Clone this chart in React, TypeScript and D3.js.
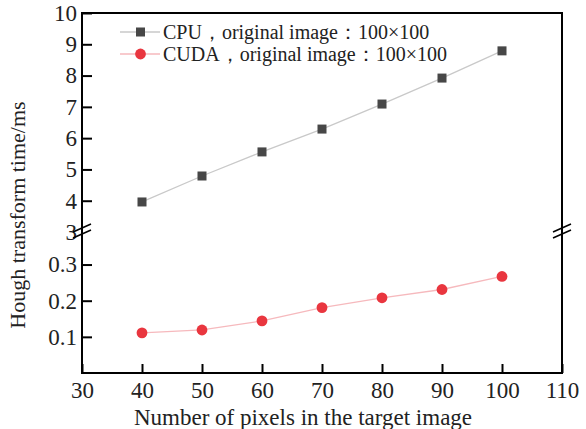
import React, { useEffect, useRef } from "react";
import * as d3 from "d3";

// ---- data ----
const pixels = [40, 50, 60, 70, 80, 90, 100];
const cpuTimes = [3.96, 4.79, 5.56, 6.29, 7.09, 7.92, 8.79];
const cudaTimes = [0.111, 0.119, 0.144, 0.181, 0.208, 0.231, 0.267];
const xTicks = [30, 40, 50, 60, 70, 80, 90, 100, 110];
const upperTicks = [3, 4, 5, 6, 7, 8, 9, 10];
const lowerTicks = [0.1, 0.2, 0.3];
const seriesNames = ["CPU，original image：100×100", "CUDA，original image：100×100"];
const xTitle = "Number of pixels in the target image";
const yTitle = "Hough transform time/ms";

const W = 586;
const H = 429;
const L = 82;
const R = 562;
const T = 13;
const B = 373;
const BREAK = 231;
const FONT = "Liberation Serif, Times New Roman, serif";

export default function App() {
  const ref = useRef<SVGSVGElement | null>(null);

  useEffect(() => {
    const svg = d3.select(ref.current);
    svg.selectAll("*").remove();

    const x = d3.scaleLinear().domain([30, 110]).range([L, R]);
    const yU = d3.scaleLinear().domain([3, 10]).range([BREAK + 1, T]);
    const yL = d3.scaleLinear().domain([0, 0.39]).range([B, BREAK + 1]);

    svg.append("rect").attr("width", W).attr("height", H).attr("fill", "#fff");

    // data lines
    const cpuPts = pixels.map((p, i) => [x(p), yU(cpuTimes[i])] as [number, number]);
    const cudaPts = pixels.map((p, i) => [x(p), yL(cudaTimes[i])] as [number, number]);
    const line = d3.line();
    svg.append("path").attr("d", line(cpuPts)).attr("fill", "none").attr("stroke", "#c9c9c9").attr("stroke-width", 1.3);
    svg.append("path").attr("d", line(cudaPts)).attr("fill", "none").attr("stroke", "#f6b9bd").attr("stroke-width", 1.3);

    svg.selectAll("rect.cpu").data(cpuPts).enter().append("rect")
      .attr("x", (d) => d[0] - 4.5).attr("y", (d) => d[1] - 4.5)
      .attr("width", 9).attr("height", 9).attr("fill", "#474747");
    svg.selectAll("circle.cuda").data(cudaPts).enter().append("circle")
      .attr("cx", (d) => d[0]).attr("cy", (d) => d[1]).attr("r", 5.4).attr("fill", "#e9363f");

    const styleAxis = (g: any) => {
      g.attr("font-family", FONT).attr("font-size", 23);
      g.select(".domain").remove();
      g.selectAll("line").attr("stroke", "#000").attr("stroke-width", 2);
      g.selectAll("text").attr("font-family", FONT).attr("font-size", 23).attr("fill", "#222");
    };

    // x axis
    const gx = svg.append("g").attr("transform", `translate(0,${B})`)
      .call(d3.axisBottom(x).tickValues(xTicks).tickSize(-9).tickSizeOuter(0).tickPadding(9).tickFormat(d3.format("d")));
    styleAxis(gx);

    // upper y axis
    const gu = svg.append("g").attr("transform", `translate(${L},0)`)
      .call(d3.axisLeft(yU).tickValues(upperTicks).tickSize(-10).tickSizeOuter(0).tickPadding(5).tickFormat(d3.format("d")));
    styleAxis(gu);
    gu.selectAll(".tick").filter((d: any) => d === 3).select("line").remove();

    // lower y axis
    const gl = svg.append("g").attr("transform", `translate(${L},0)`)
      .call(d3.axisLeft(yL).tickValues(lowerTicks).tickSize(-10).tickSizeOuter(0).tickPadding(5).tickFormat(d3.format(".1f")));
    styleAxis(gl);

    // frame
    svg.append("rect").attr("x", L).attr("y", T).attr("width", R - L).attr("height", B - T)
      .attr("fill", "none").attr("stroke", "#000").attr("stroke-width", 2);

    // break marks
    [L, R].forEach((bx) => {
      [-3, 3].forEach((off) => {
        svg.append("line")
          .attr("x1", bx - 9).attr("y1", BREAK + off + 4)
          .attr("x2", bx + 9).attr("y2", BREAK + off - 4)
          .attr("stroke", "#000").attr("stroke-width", 1.6);
      });
    });

    // legend
    const legend = svg.append("g");
    const rows = [
      { name: seriesNames[0], color: "#c9c9c9", y: 32 },
      { name: seriesNames[1], color: "#f6b9bd", y: 54 },
    ];
    rows.forEach((r, i) => {
      legend.append("line").attr("x1", 120).attr("x2", 160).attr("y1", r.y).attr("y2", r.y)
        .attr("stroke", r.color).attr("stroke-width", 1.3);
      if (i === 0) {
        legend.append("rect").attr("x", 136).attr("y", r.y - 4.5).attr("width", 9).attr("height", 9).attr("fill", "#474747");
      } else {
        legend.append("circle").attr("cx", 140.5).attr("cy", r.y).attr("r", 5.4).attr("fill", "#e9363f");
      }
      legend.append("text").attr("x", 163).attr("y", r.y + 7).attr("font-family", FONT)
        .attr("font-size", 20).attr("fill", "#222").text(r.name);
    });

    // titles
    svg.append("text").attr("x", 303).attr("y", 425).attr("text-anchor", "middle")
      .attr("font-family", FONT).attr("font-size", 23).attr("fill", "#222").text(xTitle);
    svg.append("text").attr("transform", `translate(25,215) rotate(-90)`).attr("text-anchor", "middle")
      .attr("font-family", FONT).attr("font-size", 22).attr("fill", "#222").text(yTitle);
  }, []);

  return (
    <div style={{ position: "fixed", left: 0, top: 0 }}>
      <svg ref={ref} width={W} height={H} style={{ display: "block" }} />
    </div>
  );
}
